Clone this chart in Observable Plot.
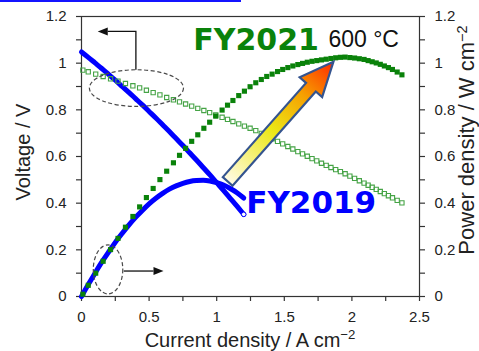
<!DOCTYPE html>
<html>
<head>
<meta charset="utf-8">
<script src="https://cdn.jsdelivr.net/npm/d3@7"></script>
<script src="https://cdn.jsdelivr.net/npm/@observablehq/plot@0.6"></script>
<style>
  html, body { margin: 0; padding: 0; background: #fff; }
  #wrap { position: relative; width: 479px; height: 351px; overflow: hidden; }
  #topbar { position: absolute; left: 0; top: 0; width: 241px; height: 2px; background: #1414ff; }
</style>
</head>
<body>
<div id="wrap"><div id="chart"></div><div id="topbar"></div></div>
<script>
// FY2021 cell at 600 °C: current density (A cm^-2), cell voltage (V), power density (W cm^-2)
const current2021 = [0.01, 0.05, 0.105, 0.16, 0.215, 0.27, 0.325, 0.38, 0.43, 0.48, 0.53, 0.58, 0.63, 0.68, 0.725, 0.77, 0.815, 0.86, 0.905, 0.948, 0.993, 1.04, 1.08, 1.12, 1.163, 1.205, 1.247, 1.289, 1.33, 1.37, 1.41, 1.45, 1.488, 1.526, 1.563, 1.6, 1.635, 1.67, 1.705, 1.74, 1.775, 1.81, 1.845, 1.88, 1.915, 1.95, 1.985, 2.02, 2.055, 2.09, 2.12, 2.15, 2.18, 2.21, 2.24, 2.27, 2.30, 2.335, 2.37];
const voltage2021 = [0.970, 0.963, 0.953, 0.943, 0.933, 0.923, 0.913, 0.903, 0.894, 0.884, 0.874, 0.864, 0.853, 0.843, 0.834, 0.825, 0.816, 0.806, 0.797, 0.788, 0.778, 0.768, 0.759, 0.750, 0.740, 0.730, 0.721, 0.711, 0.699, 0.688, 0.676, 0.665, 0.654, 0.643, 0.632, 0.621, 0.611, 0.601, 0.591, 0.581, 0.571, 0.562, 0.553, 0.544, 0.535, 0.526, 0.516, 0.506, 0.496, 0.486, 0.477, 0.468, 0.459, 0.450, 0.441, 0.432, 0.423, 0.412, 0.401];
const power2021 = [0.010, 0.048, 0.100, 0.151, 0.201, 0.249, 0.297, 0.343, 0.384, 0.424, 0.463, 0.501, 0.537, 0.573, 0.605, 0.635, 0.665, 0.693, 0.721, 0.747, 0.773, 0.799, 0.820, 0.840, 0.861, 0.880, 0.899, 0.916, 0.930, 0.943, 0.953, 0.964, 0.973, 0.981, 0.988, 0.994, 0.999, 1.004, 1.008, 1.011, 1.014, 1.017, 1.020, 1.023, 1.025, 1.026, 1.024, 1.022, 1.019, 1.016, 1.011, 1.006, 1.001, 0.995, 0.988, 0.981, 0.973, 0.962, 0.950];

// FY2019 cell
const current2019 = [0, 0.05, 0.1, 0.15, 0.2, 0.25, 0.3, 0.35, 0.4, 0.45, 0.5, 0.55, 0.6, 0.65, 0.7, 0.75, 0.8, 0.85, 0.9, 0.95, 1.0, 1.05, 1.1, 1.15, 1.2];
const voltage2019 = [1.048, 1.025, 1.001, 0.977, 0.952, 0.927, 0.901, 0.875, 0.848, 0.821, 0.793, 0.765, 0.736, 0.707, 0.677, 0.647, 0.616, 0.585, 0.553, 0.521, 0.488, 0.455, 0.421, 0.387, 0.352];
const power2019 = [0, 0.051, 0.100, 0.147, 0.190, 0.232, 0.270, 0.306, 0.339, 0.369, 0.397, 0.421, 0.442, 0.460, 0.474, 0.485, 0.493, 0.497, 0.498, 0.495, 0.488, 0.478, 0.463, 0.445, 0.422];

// Axis ticks
const xTicks = [0, 0.5, 1, 1.5, 2, 2.5];
const xTickLabels = ["0", "0.5", "1", "1.5", "2", "2.5"];
const xMinorTicks = [0.25, 0.75, 1.25, 1.75, 2.25];
const yTicks = [0, 0.2, 0.4, 0.6, 0.8, 1, 1.2];
const yTickLabels = ["0", "0.2", "0.4", "0.6", "0.8", "1", "1.2"];
const yMinorTicks = [0.1, 0.3, 0.5, 0.7, 0.9, 1.1];

const fy2021 = current2021.map((c, i) => ({current: c, voltage: voltage2021[i], power: power2021[i]}));
const fy2019 = current2019.map((c, i) => ({current: c, voltage: voltage2019[i], power: power2019[i]}));

const BLUE = "#0000ff";
const GREEN_DARK = "#0a820a";
const GREEN_LIGHT = "#45a345";
const AXIS = "#333";

const xFmt = d => xTickLabels[xTicks.indexOf(d)];
const yFmt = d => yTickLabels[yTicks.indexOf(d)];
const none = () => "";
const axisCommon = {tickSize: 5, tickPadding: 10, label: null, stroke: AXIS, strokeWidth: 1.2};

const plot = Plot.plot({
  width: 479,
  height: 351,
  marginLeft: 81,
  marginRight: 60,
  marginTop: 16,
  marginBottom: 55,
  x: {domain: [0, 2.5]},
  y: {domain: [0, 1.2]},
  style: {fontFamily: "'Liberation Sans', Arial, sans-serif", fontSize: "15px", color: "#222", background: "#fff", overflow: "visible"},
  marks: [
    Plot.axisY(yMinorTicks, {...axisCommon, anchor: "left", tickFormat: none}),
    Plot.axisY(yTicks, {...axisCommon, anchor: "left", tickFormat: yFmt}),
    Plot.axisY(yMinorTicks, {...axisCommon, anchor: "right", tickFormat: none}),
    Plot.axisY(yTicks, {...axisCommon, anchor: "right", tickFormat: yFmt}),
    Plot.axisX(xMinorTicks, {...axisCommon, anchor: "bottom", tickFormat: none}),
    Plot.axisX(xTicks, {...axisCommon, anchor: "bottom", tickFormat: xFmt}),
    Plot.frame({stroke: AXIS, strokeWidth: 1.2}),
    // FY2019: voltage and power as thick blue curves
    Plot.line(fy2019, {x: "current", y: "voltage", stroke: BLUE, strokeWidth: 5, curve: "monotone-x"}),
    Plot.line(fy2019, {x: "current", y: "power", stroke: BLUE, strokeWidth: 5, curve: "monotone-x"}),
    Plot.dot(fy2019.slice(-1), {x: "current", y: "voltage", r: 2.3, stroke: BLUE, fill: "#fff", strokeWidth: 1}),
    // FY2021: open squares for voltage, filled squares for power
    Plot.dot(fy2021, {x: "current", y: "voltage", symbol: "square", r: 2.4, stroke: GREEN_LIGHT, strokeWidth: 1.1, fill: "none"}),
    Plot.dot(fy2021, {x: "current", y: "power", symbol: "square", r: 2.9, fill: GREEN_DARK, stroke: "none"})
  ]
});

document.getElementById("chart").appendChild(plot);

// Annotations, placed in data units and converted with the plot's scales
const X = plot.scale("x"), Y = plot.scale("y");
const px = v => X.apply(v), py = v => Y.apply(v);
const svg = d3.select(plot);
const ann = svg.append("g");

// dashed ellipses marking which curves belong to which axis
const ellipses = [
  {cx: 0.41, cy: 0.891, rx: 0.348, ry: 0.0786},
  {cx: 0.20, cy: 0.114, rx: 0.109, ry: 0.105}
];
for (const e of ellipses) {
  ann.append("ellipse")
    .attr("cx", px(e.cx)).attr("cy", py(e.cy))
    .attr("rx", px(e.cx + e.rx) - px(e.cx)).attr("ry", py(e.cy) - py(e.cy + e.ry))
    .attr("fill", "none").attr("stroke", "#4a4a4a").attr("stroke-width", 1.2)
    .attr("stroke-dasharray", "4 2.5");
}

// pointer arrows: to the left axis (voltage) and to the right axis (power)
const pointers = [
  [[0.406, 0.97], [0.406, 1.134], [0.124, 1.134]],
  [[0.316, 0.107], [0.61, 0.107]]
];
for (const pts of pointers) {
  const p = pts.map(([a, b]) => [px(a), py(b)]);
  const tip = p[p.length - 1], prev = p[p.length - 2];
  const dx = tip[0] - prev[0], dy = tip[1] - prev[1];
  const len = Math.hypot(dx, dy), ux = dx / len, uy = dy / len;
  const hl = 10, hw = 4;
  const base = [tip[0] - ux * hl, tip[1] - uy * hl];
  const lineEnd = p.slice(0, -1).concat([base]);
  ann.append("path").attr("d", d3.line()(lineEnd)).attr("fill", "none").attr("stroke", "#111").attr("stroke-width", 1.3);
  ann.append("path")
    .attr("d", d3.line()([tip, [base[0] - uy * hw, base[1] + ux * hw], [base[0] + uy * hw, base[1] - ux * hw]]) + "Z")
    .attr("fill", "#111");
}

// block arrow showing the improvement from FY2019 to FY2021
{
  const t0 = [px(1.085), py(0.491)], t1 = [px(1.867), py(1.004)];
  const dx = t1[0] - t0[0], dy = t1[1] - t0[1];
  const L = Math.hypot(dx, dy), ux = dx / L, uy = dy / L, nx = -uy, ny = ux;
  const sw = 6.5, hw = 15, hl = 34;
  const P = (s, n) => [t0[0] + ux * s + nx * n, t0[1] + uy * s + ny * n];
  const poly = [P(0, -sw), P(L - hl, -sw), P(L - hl, -hw), P(L, 0), P(L - hl, hw), P(L - hl, sw), P(0, sw)];
  const defs = svg.append("defs");
  const g = defs.append("linearGradient").attr("id", "improve").attr("gradientUnits", "userSpaceOnUse")
    .attr("x1", t0[0]).attr("y1", t0[1]).attr("x2", t1[0]).attr("y2", t1[1]);
  [[0, "#fffbe6"], [0.42, "#ece817"], [0.72, "#f6a000"], [1, "#ff2a00"]].forEach(([o, c]) =>
    g.append("stop").attr("offset", o).attr("stop-color", c));
  ann.append("path").attr("d", d3.line()(poly) + "Z")
    .attr("fill", "url(#improve)").attr("stroke", "#34548f").attr("stroke-width", 2.2).attr("stroke-linejoin", "miter");
}

// series labels
const labels = [
  {text: "FY2021", x: 0.83, y: 1.056, size: 30, weight: "bold", fill: GREEN_DARK, font: "'DejaVu Sans', Verdana, sans-serif"},
  {text: "600 °C", x: 1.83, y: 1.069, size: 23, weight: "normal", fill: "#111", font: "'Liberation Sans', Arial, sans-serif"},
  {text: "FY2019", x: 1.222, y: 0.356, size: 31, weight: "bold", fill: BLUE, font: "'DejaVu Sans', Verdana, sans-serif"}
];
for (const l of labels) {
  ann.append("text").attr("x", px(l.x)).attr("y", py(l.y))
    .attr("text-anchor", "start")
    .attr("font-family", l.font).attr("font-size", l.size).attr("font-weight", l.weight)
    .attr("fill", l.fill).text(l.text);
}

// axis titles
const titleFont = "'Liberation Sans', Arial, sans-serif";
function title(x, y, rot, size, main, sup, lift) {
  const t = svg.append("text").attr("transform", `translate(${x},${y}) rotate(${rot})`)
    .attr("text-anchor", "middle").attr("font-family", titleFont).attr("font-size", size).attr("fill", "#222");
  t.append("tspan").text(main);
  if (sup) {
    t.append("tspan").attr("dy", -size * lift).attr("font-size", size * 0.66).text(sup);
  }
  return t;
}
title((px(0) + px(2.5)) / 2, 347, 0, 20, "Current density / A cm", "\u22122", 0.4);
title(30, 152, -90, 20, "Voltage / V");
title(474, 140, -90, 22, "Power density / W cm", "\u22122", 0.3);
</script>
</body>
</html>
